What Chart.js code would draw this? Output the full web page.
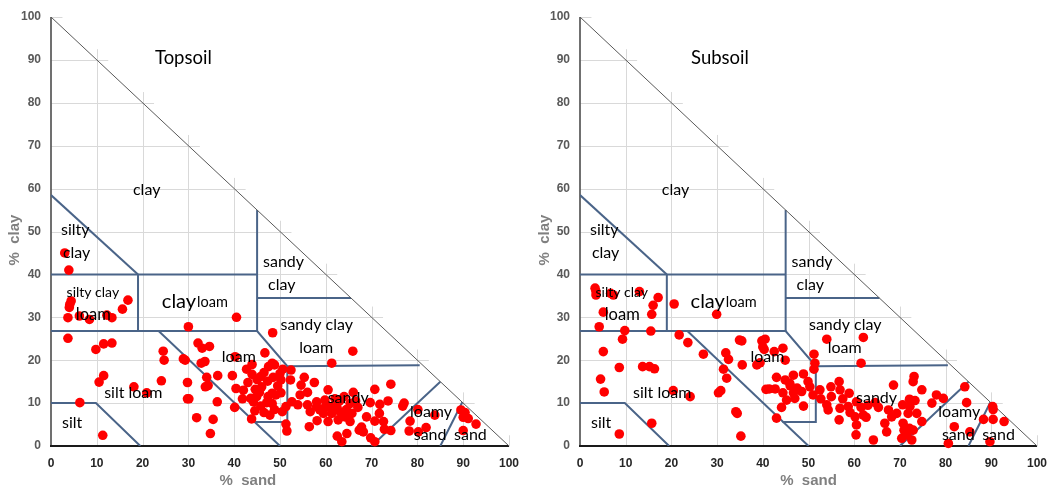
<!DOCTYPE html>
<html>
<head>
<meta charset="utf-8">
<script src="https://cdn.jsdelivr.net/npm/chart.js@4.4.1/dist/chart.umd.min.js"></script>
<style>
  body { margin: 0; background: #fff; }
  #wrap { display: flex; width: 1050px; height: 490px; }
  canvas { display: block; }
</style>
</head>
<body>
<div id="wrap">
  <canvas id="topsoil" width="525" height="490"></canvas>
  <canvas id="subsoil" width="525" height="490"></canvas>
</div>
<script>
// axis ticks (% sand on x, % clay on y)
const tickValues = [0, 10, 20, 30, 40, 50, 60, 70, 80, 90, 100];

// samples as [% sand, % clay]
const topsoilPoints = [
  [3,45],[3.9,41],[4.4,33.8],[4.1,33],[4,32.3],[3.7,29.9],[6.2,30.3],[8.4,29.5],[12.2,30.5],[13.3,29.9],
  [15.6,31.9],[16.8,34],[3.7,25.1],[9.8,22.5],[11.5,23.8],[13.3,24],[10.5,14.9],[11.5,16.4],[6.3,10.1],[11.3,2.5],
  [18.1,13.8],[20.9,12.4],[24.1,15.2],[24.5,22.1],[24.7,20],[28.9,20.3],[29.3,20],[30,27.8],[40.5,30],[29.8,14.8],
  [29.8,11],[30.1,11],[31.8,6.6],[32.1,24],[33,22.8],[34.6,23.2],[32.8,19.3],[33.6,19.7],[34,16],[36.4,16.4],
  [33.7,13.8],[34.3,14.1],[36.3,10.3],[35.4,6.2],[34.8,2.9],[39.6,16.4],[40.4,13.4],[40.1,9],[40.2,20.8],[43.8,6.3],
  [42.7,17.9],[43.9,16.7],[43.9,19],[46.7,21.7],[46.5,17.1],[47.3,15.1],
  [48.4,26.4],[48.3,19.3],[48.8,18.9],[50.6,17.9],[50,16.9],[50.2,15.4],[52.3,15.4],[52.4,17.7],[46,13.8],[44.6,13.2],
  [44.9,11.5],[43.6,11.1],[44.2,10.3],[45.8,9.3],[46.5,7.8],[47.8,7.2],[47.1,10.1],[48.3,9.9],[48.3,12.3],[47.4,11.5],
  [49.1,11.9],[50.2,12.4],[51.3,9.2],[51.3,5.1],[51.5,3.5],[54.4,11.9],[54.6,14.2],[53.9,9.6],[52.6,10.3],[56,9.6],
  [56.4,4.5],[58,10.3],[58.7,8.4],[58.1,5.9],[56.6,8],[59.8,9],
  [45.5,12.5],[49.5,14],[48.5,16],[45,15.5],[42,13],[43,14.8],[50.5,8],[48.8,8.5],[47.5,18.5],[45.8,16.2],
  [44.5,8.2],[41.8,11],
  [65.9,22.1],[61.3,19.3],[74.2,14.4],[70.7,13.2],[60.5,13.1],[69.7,10.1],[71.8,9.7],[73.6,10.5],[76.8,9.3],[77.1,10],
  [71.7,7.6],[68.9,6.8],[70.7,5.8],[72.8,3.9],[74.2,3.6],[67.8,4.4],[67.3,3.7],[68.2,3.3],[69.8,1.9],[64.6,2.9],
  [62.5,2.3],[63.5,1],[78.4,5.8],[78.2,3.5],[81.9,4.3],[83.8,7.2],[80.1,8.5],[80.2,3.3],[89.5,8.4],[90.4,7.8],
  [90,6.7],[91.1,6.4],[92.8,5.1],[90,3.6],[72.6,5.7],[70.7,1],
  [55.3,16],[59.8,10.7],[60.9,9.2],[62.4,9.2],[59.5,7.6],[61.3,7.6],[63.1,8],[64.2,6.8],[65.3,9.9],[65.7,7.6],
  [65.3,5.7],[62.7,6.1],[60.5,5.7],[58,9.2],
  [63,10.5],[64,11.5],[66.5,10.5],[62,11],[66,12.5],[67,9],[64.5,8.5],[57.5,14.8],[56,12.5]
];

const subsoilPoints = [
  [3.3,36.8],[3.5,35.2],[3.5,36],[6.7,35.6],[7.3,35.2],[13,36],[17.1,34.6],[16,32.8],[20.6,33.1],[5.1,31.2],
  [15.7,30.7],[29.9,30.7],[4.2,27.8],[9.8,26.9],[15.5,26.8],[9.3,24.9],[21.7,25.9],[23.6,24.1],[27,21.4],[5.1,22],
  [8.6,18.3],[13.7,18.5],[15.2,18.5],[16.3,18],[4.5,15.6],[5.3,12.6],[20.4,12.9],[24.1,11.5],[30.3,12.4],[30.8,12.9],
  [15.7,5.3],[8.6,2.8],[31.9,21.7],[32.5,20.2],[34.9,24.7],[35.4,24.5],[35.5,18.9],[31.4,17.9],[32.1,15.8],[34.1,8],
  [34.4,7.6],[35.2,2.3],[39.8,24.5],[40.5,24.9],[40,23.1],[40.3,22.5],[38.7,18.9],[39.4,19.4],[40.7,13.2],[41.4,13.3],
  [42.7,13.3],[43,6.5],
  [44.4,22.8],[44.9,20],[54,24.9],[62,25.3],[61.5,19.3],[51.2,21.4],[51.4,19.3],[51.2,17.9],[48.9,16.8],[46.7,16.5],
  [44.9,15.4],[45.9,14.6],[49.9,15],[50.3,13.8],[44.4,12.4],[46.7,12.4],[48.5,12.7],[52.5,13.1],[54.9,13.8],[56.7,15],
  [56.9,13.1],[58.9,12.3],[51,11.9],[47,11.1],[45.2,10.7],[44.1,9],[48.9,9.3],[54,9.6],[54.3,8.4],[56.9,8.8],
  [58.7,9.2],[59.1,7.8],[56.7,6.1],[60.5,10.3],[60.2,6.8],[62,7.2],[62.6,6.7],[60.5,4.9],[60.4,2.6],[64.2,1.4],
  [64.6,10.1],[65.3,9],[67.5,8.4],[68.2,6.8],[68.6,14.2],[69.3,7.6],[66.7,5.3],[67.1,3.3],
  [46,14],[47.5,13.5],[43,16],[52.7,11],[55,11.5],[57.5,11],[63,9.5],[61.5,9],[42.5,22],
  [73.1,16.2],[72.9,15],[74.8,13.1],[78,11.9],[79.5,11.1],[77,10],[84.2,13.8],[84.6,10.1],[72.1,10.9],[73.3,10.6],
  [70.6,9.6],[72.2,9.2],[71.8,7.6],[73.7,7.6],[74.8,5.7],[70.7,5.3],[72.1,4.1],[72.9,3.7],[70.9,3.7],[72.6,1.4],
  [70.4,1.8],[81.9,4.5],[80.6,0.6],[85.3,3.3],[88.3,6.2],[90.3,9.2],[90.4,8.5],[90.4,6.2],[92.8,5.7],[89.7,1],
  [71.5,2.6]
];

// texture class borders, each one a polyline of [% sand, % clay]
const boundaries = [
  [[0,58.5],[19,40]],
  [[0,40],[45,40]],
  [[45,26.8],[45,55]],
  [[19,40],[19,26.8]],
  [[0,26.8],[45,26.8],[51.6,18.6],[80.5,18.8]],
  [[51.6,18.6],[51.6,5.6],[44.3,5.6]],
  [[45,34.5],[65.5,34.5]],
  [[23.5,26.8],[50,0]],
  [[0,10],[9.8,10],[19.5,0]],
  [[70,0],[85,15]],
  [[85,0],[89.8,10.2]]
];
const diagonal = [[0,100],[100,0]];

// class names, left edge / middle of text in data units
const classLabels = [
  { text: 'clay', x: 17.9, y: 59.7 },
  { text: 'silty', x: 2.2, y: 50.3 },
  { text: 'clay', x: 2.6, y: 45 },
  { text: 'silty clay', x: 3.4, y: 35.8, size: 14 },
  { text: 'loam', x: 5.4, y: 30.7, size: 16.5 },
  { text: 'clay', x: 24.2, y: 33.6, size: 20 },
  { text: 'loam', x: 31.9, y: 33.4, size: 14.5 },
  { text: 'sandy', x: 46.3, y: 42.9 },
  { text: 'clay', x: 47.4, y: 37.5 },
  { text: 'sandy clay', x: 50.1, y: 28.2 },
  { text: 'loam', x: 54.2, y: 22.8 },
  { text: 'loam', x: 37.3, y: 20.7 },
  { text: 'silt loam', x: 11.6, y: 12.3 },
  { text: 'silt', x: 2.4, y: 5.3 },
  { text: 'sandy', x: 60.4, y: 11.3 },
  { text: 'loamy', x: 78.4, y: 8.0 },
  { text: 'sand', x: 79.2, y: 2.6 },
  { text: 'sand', x: 88, y: 2.6 }
];

const triangle = {
  id: 'triangle',
  beforeDatasetsDraw(chart, args, opts) {
    const { ctx, scales: { x, y } } = chart;
    const px = v => Math.round(x.getPixelForValue(v)) + 0.5;
    const py = v => Math.round(y.getPixelForValue(v)) + 0.5;
    ctx.save();
    ctx.strokeStyle = '#d9d9d9';
    ctx.lineWidth = 1;
    tickValues.forEach(v => {
      if (v === 0) return;
      const reach = Math.min(100, 100 - v + 2.5);
      ctx.beginPath();
      ctx.moveTo(px(0), py(v));
      ctx.lineTo(x.getPixelForValue(reach), py(v));
      ctx.moveTo(px(v), py(0));
      ctx.lineTo(px(v), y.getPixelForValue(reach));
      ctx.stroke();
    });
    // axis lines
    ctx.strokeStyle = '#404040';
    ctx.lineWidth = 1.5;
    ctx.beginPath();
    ctx.moveTo(x.getPixelForValue(0), y.getPixelForValue(100));
    ctx.lineTo(x.getPixelForValue(0), y.getPixelForValue(0));
    ctx.stroke();
    ctx.strokeStyle = '#1a1a1a';
    ctx.lineWidth = 2;
    ctx.beginPath();
    ctx.moveTo(x.getPixelForValue(0) - 1, y.getPixelForValue(0));
    ctx.lineTo(x.getPixelForValue(100), y.getPixelForValue(0));
    ctx.stroke();
    ctx.restore();
  },
  afterDatasetsDraw(chart, args, opts) {
    const { ctx, scales: { x, y } } = chart;
    ctx.save();
    ctx.fillStyle = '#000';
    ctx.textAlign = 'left';
    ctx.textBaseline = 'middle';
    classLabels.forEach(l => {
      ctx.font = (l.size || 16) + 'px Lato';
      ctx.fillText(l.text, x.getPixelForValue(l.x), y.getPixelForValue(l.y));
    });
    ctx.font = '18.5px Lato';
    ctx.fillText(opts.title, x.getPixelForValue(opts.titleX), y.getPixelForValue(90.4));

    // axis titles
    ctx.fillStyle = '#808080';
    ctx.font = 'bold 15px "Liberation Sans"';
    ctx.textAlign = 'center';
    ctx.fillText('%  sand', x.getPixelForValue(opts.sandX), 481);
    ctx.translate(opts.clayPx, 240);
    ctx.rotate(-Math.PI / 2);
    ctx.fillText('%  clay', 0, 0);
    ctx.restore();
  }
};

function lineSet(points, color, width) {
  return {
    type: 'scatter',
    data: points.map(p => ({ x: p[0], y: p[1] })),
    showLine: true,
    borderColor: color,
    borderWidth: width,
    pointRadius: 0,
    fill: false,
    order: 2
  };
}

function makeChart(id, points, opts) {
  const datasets = [{
    data: points.map(p => ({ x: p[0], y: p[1] })),
    backgroundColor: '#ff0000',
    borderWidth: 0,
    pointRadius: 4.8,
    clip: false,
    order: 0
  }];
  datasets.push(lineSet(diagonal, '#595959', 1));
  boundaries.forEach(b => datasets.push(lineSet(b, '#4a6488', 2)));

  const tickFont = { family: '"Liberation Sans"', size: 12, weight: 'bold' };
  return new Chart(document.getElementById(id), {
    type: 'scatter',
    data: { datasets },
    plugins: [triangle],
    options: {
      responsive: false,
      animation: false,
      devicePixelRatio: 1,
      layout: { padding: { top: 17, right: opts.padRight, left: 0, bottom: 0 } },
      plugins: {
        legend: { display: false },
        tooltip: { enabled: false },
        triangle: opts
      },
      scales: {
        x: {
          type: 'linear', min: 0, max: 100,
          grid: { display: false, drawTicks: false },
          border: { display: false },
          ticks: { stepSize: 10, padding: 10, color: '#262626', font: tickFont, maxRotation: 0 },
          afterFit: s => { s.height = 44; s.paddingLeft = 0; s.paddingRight = 0; }
        },
        y: {
          type: 'linear', min: 0, max: 100,
          grid: { display: false, drawTicks: false },
          border: { display: false },
          ticks: { stepSize: 10, padding: 10, color: '#595959', font: tickFont },
          afterFit: s => { s.width = opts.axisWidth; s.paddingTop = 0; s.paddingBottom = 0; }
        }
      }
    }
  });
}

makeChart('topsoil', topsoilPoints, { title: 'Topsoil', titleX: 22.7, sandX: 43, clayPx: 15, axisWidth: 51, padRight: 16 });
makeChart('subsoil', subsoilPoints, { title: 'Subsoil', titleX: 24.3, sandX: 50, clayPx: 20, axisWidth: 55, padRight: 13 });
</script>
</body>
</html>
